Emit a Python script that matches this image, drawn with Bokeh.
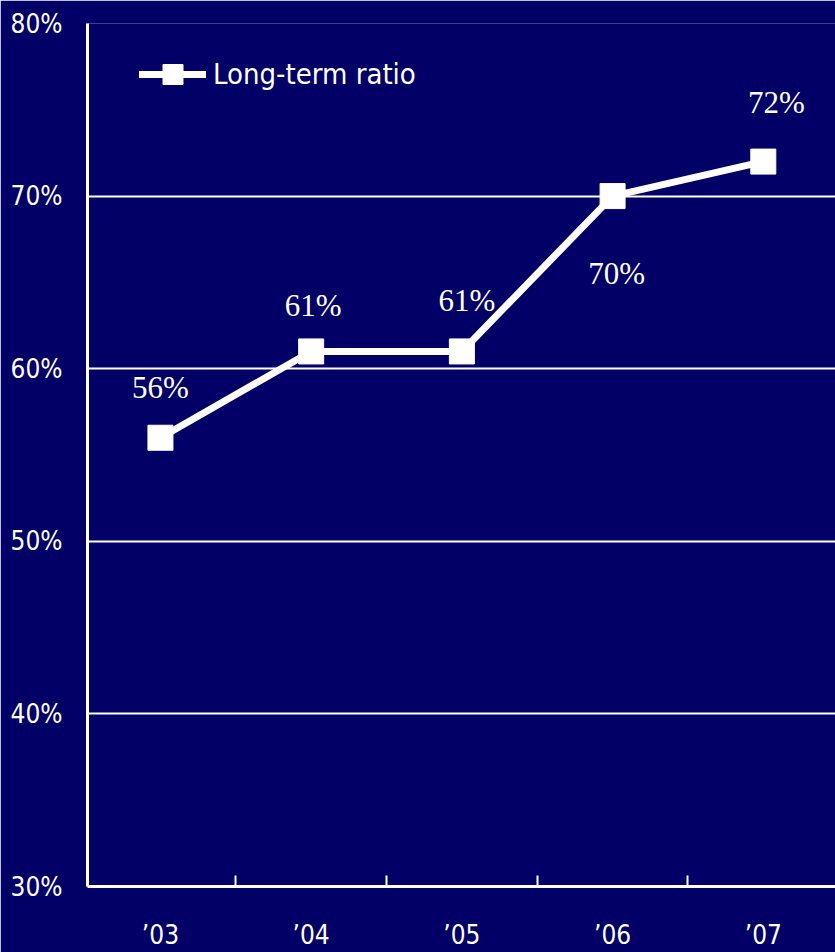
from bokeh.plotting import figure
from bokeh.models import (ColumnDataSource, FixedTicker, Legend, LegendItem,
                          LabelSet, CustomJSTickFormatter)
from bokeh.embed import file_html
from bokeh.resources import INLINE

# ---- data ----
years = ["\u201903", "\u201904", "\u201905", "\u201906", "\u201907"]
long_term_ratio = [56, 61, 61, 70, 72]
y_ticks = [30, 40, 50, 60, 70, 80]
series_name = "Long-term ratio"

# ---- layout / style ----
BG = "#020066"
SANS = "DejaVu Sans Condensed, Noto Sans"
SERIF = "Liberation Serif"
label_dx = [0, 2, 5, 4, 13]
label_dy = [50, 46, 51, -77, 59]

xs = list(range(len(years)))
src = ColumnDataSource(dict(
    x=xs, y=long_term_ratio,
    txt=[f"{v}%" for v in long_term_ratio],
    dx=label_dx, dy=label_dy,
))

p = figure(width=835, height=952, output_backend="svg", toolbar_location=None,
           x_range=(-0.484, 4.479), y_range=(30, 80),
           background_fill_color=BG, border_fill_color=BG,
           min_border_left=87, min_border_right=0, min_border_top=23,
           min_border_bottom=65, outline_line_color=None)

line_r = p.line("x", "y", source=src, line_color="white", line_width=7,
                line_join="round", line_cap="round")
sq_r = p.scatter("x", "y", source=src, marker="square", size=25,
                 fill_color="white", line_color="white")

labels = LabelSet(x="x", y="y", text="txt", source=src, x_offset="dx", y_offset="dy",
                  text_align="center", text_baseline="middle",
                  text_color="white", text_font=SERIF, text_font_size="31px")
p.add_layout(labels)

# x axis
p.xaxis.ticker = FixedTicker(ticks=xs, minor_ticks=[0.5, 1.5, 2.5, 3.5])
p.xaxis.major_label_overrides = {i: years[i] for i in xs}
p.xaxis.major_tick_line_color = None
p.xaxis.minor_tick_line_color = "white"
p.xaxis.minor_tick_line_width = 2
p.xaxis.minor_tick_in = 11
p.xaxis.minor_tick_out = 0
p.xaxis.axis_line_color = "white"
p.xaxis.axis_line_width = 3
p.xaxis.major_label_standoff = 27
p.xaxis.major_label_text_color = "white"
p.xaxis.major_label_text_font = SANS
p.xaxis.major_label_text_font_size = "26px"

# y axis
p.yaxis.ticker = FixedTicker(ticks=y_ticks)
p.yaxis.formatter = CustomJSTickFormatter(code="return tick + '%';")
p.yaxis.major_tick_line_color = None
p.yaxis.minor_tick_line_color = None
p.yaxis.axis_line_color = "white"
p.yaxis.axis_line_width = 3
p.yaxis.major_label_standoff = 19
p.yaxis.major_label_text_color = "white"
p.yaxis.major_label_text_font = SANS
p.yaxis.major_label_text_font_size = "26px"

p.xgrid.grid_line_color = None
p.ygrid.ticker = FixedTicker(ticks=y_ticks)
p.ygrid.grid_line_color = "white"
p.ygrid.grid_line_width = 2

legend = Legend(items=[LegendItem(label=series_name, renderers=[line_r, sq_r])],
                location=(52, 787), margin=0, padding=0,
                background_fill_alpha=0, border_line_color=None,
                glyph_width=67, glyph_height=50, label_standoff=7,
                label_text_color="white", label_text_font=SANS,
                label_text_font_size="29px")
p.add_layout(legend)

open("out.html", "w").write(file_html(p, INLINE))
